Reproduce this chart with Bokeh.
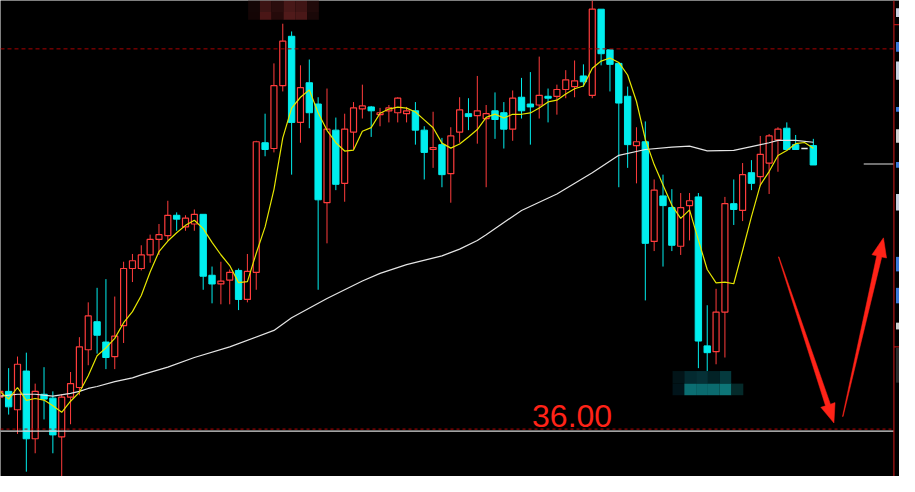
import numpy as np
import pandas as pd
from bokeh.plotting import figure
from bokeh.models import Range1d
from bokeh.core.properties import value
from bokeh.embed import file_html
from bokeh.resources import INLINE

# ---------------- data ----------------
opens = [39.3, 39.9, 38.0, 42.0, 35.0, 39.6, 39.2, 35.2, 39.3, 40.3,
         44.2, 47.1, 45.0, 43.5, 46.7, 52.6, 52.6, 54.0, 55.6, 56.0,
         58.1, 56.9, 57.2, 58.2, 51.9, 51.0, 51.4, 52.4, 49.4, 52.2,
         65.6, 65.0, 71.5, 76.6, 67.7, 71.8, 69.6, 59.4, 66.9, 61.4,
         66.7, 69.1, 69.3, 68.5, 68.9, 68.7, 68.6, 68.9, 66.9, 64.9,
         65.4, 62.4, 66.7, 68.6, 68.4, 68.1, 68.9, 68.7, 67.0, 70.3,
         69.6, 69.5, 70.4, 70.4, 71.1, 71.4, 72.5, 70.5, 79.4, 75.2,
         73.8, 70.4, 65.3, 65.7, 55.4, 60.1, 58.9, 54.9, 59.1, 60.0,
         44.6, 44.0, 48.1, 59.3, 58.6, 62.5, 62.1, 63.5, 65.9, 67.1,
         65.4, 65.0, 65.3]
highs = [40.1, 42.3, 43.5, 43.9, 40.7, 42.4, 39.9, 39.6, 41.9, 45.5,
         49.1, 50.6, 51.5, 49.7, 53.3, 54.1, 55.0, 56.1, 57.2, 59.6,
         58.4, 58.1, 58.7, 58.2, 52.8, 53.3, 52.5, 52.6, 54.1, 65.8,
         68.6, 73.8, 77.9, 77.1, 73.6, 74.2, 70.3, 71.2, 68.2, 68.6,
         69.8, 71.6, 69.4, 69.2, 69.5, 70.3, 69.3, 69.8, 67.3, 68.8,
         66.1, 67.2, 70.3, 70.2, 72.5, 69.5, 70.8, 69.8, 71.0, 72.3,
         72.9, 74.5, 71.2, 71.6, 73.1, 74.1, 73.7, 80.3, 79.4, 75.2,
         73.8, 71.4, 67.2, 67.8, 61.8, 62.3, 60.8, 60.4, 60.4, 60.4,
         48.8, 50.5, 60.0, 61.8, 63.5, 63.8, 66.3, 66.5, 67.2, 67.7,
         66.4, 65.0, 66.0]
lows = [39.1, 37.5, 35.5, 31.6, 33.5, 37.0, 33.5, 31.1, 36.5, 39.5,
        42.6, 43.8, 42.2, 42.2, 44.9, 51.2, 52.4, 53.2, 54.0, 55.5,
        56.5, 56.5, 56.5, 50.4, 49.0, 48.9, 48.9, 48.3, 49.1, 50.4,
        64.2, 64.6, 70.9, 62.3, 65.6, 67.1, 50.4, 55.2, 60.7, 59.5,
        64.9, 68.1, 66.2, 67.3, 67.7, 67.7, 67.7, 65.4, 61.8, 63.0,
        61.0, 59.4, 65.6, 66.9, 65.5, 61.0, 66.0, 65.0, 65.8, 68.1,
        65.4, 68.1, 67.7, 68.5, 70.2, 70.3, 71.4, 70.2, 73.6, 70.9,
        61.0, 63.0, 61.4, 49.3, 54.4, 52.8, 54.4, 54.0, 55.5, 42.3,
        42.0, 42.7, 43.4, 57.1, 57.5, 60.7, 61.1, 60.3, 62.6, 64.9,
        64.9, 65.0, 63.3]
closes = [39.9, 38.3, 42.7, 35.0, 39.9, 39.1, 35.4, 39.3, 40.7, 44.5,
          47.7, 45.7, 43.4, 45.6, 52.6, 53.4, 54.0, 55.6, 56.1, 58.1,
          57.7, 57.8, 58.2, 51.8, 51.0, 51.3, 52.2, 49.4, 52.3, 65.7,
          64.9, 71.5, 76.1, 67.7, 71.3, 68.7, 59.7, 67.0, 61.3, 67.0,
          69.2, 69.4, 68.9, 68.7, 69.2, 70.2, 68.9, 66.9, 64.6, 65.1,
          62.3, 66.3, 69.0, 68.3, 68.9, 68.6, 68.0, 67.0, 70.2, 68.9,
          69.3, 70.5, 70.2, 71.1, 72.1, 72.0, 71.9, 79.4, 74.8, 73.7,
          69.7, 65.4, 65.7, 55.2, 60.7, 59.1, 55.0, 58.9, 59.6, 45.1,
          43.9, 48.1, 59.3, 58.7, 62.3, 61.4, 64.4, 66.3, 67.0, 64.9,
          64.9, 65.0, 63.3]

# long moving average (white), read at sampled bars
ma_long_idx = [0, 2, 4, 6, 8, 9, 10, 11, 13, 15, 16, 19, 22, 26, 31, 33, 37, 41, 43,
               46, 50, 52, 54, 55, 59, 63, 67, 70, 73, 76, 78, 80, 83, 85, 87, 88, 90, 92]
ma_long_val = [39.4, 39.6, 39.6, 39.4, 39.7, 39.9, 40.2, 40.4, 40.9, 41.3, 41.6, 42.4,
               43.4, 44.5, 46.2, 47.5, 49.5, 51.3, 52.1, 53.0, 53.9, 54.6, 55.5, 56.1,
               58.6, 60.3, 62.5, 64.3, 64.9, 65.15, 65.25, 64.75, 64.8, 65.2, 65.6,
               65.85, 65.85, 65.65]

short_ma_period = 5
level_price = 36.0          # red dashed level, labelled "36.00"
level_label = "36.00"
top_level = 75.3            # upper red dashed level
base_level = 35.78          # white solid base line
mark_level = 63.4           # short white marker on the right

# ---------------- layout ----------------
W, H = 899, 476
X0, X1 = 0.078, 101.744
Y0, Y1 = 31.1, 80.3
BORDER_X = 101.11

RED = "#ff3c3c"
CYAN = "#00eeee"
ARROW_RED = "#ff2318"

p = figure(width=W, height=H, x_range=Range1d(X0, X1), y_range=Range1d(Y0, Y1),
           output_backend="svg", toolbar_location=None, min_border=0,
           x_axis_location=None, y_axis_location=None,
           background_fill_color="black", border_fill_color="black",
           outline_line_color=None)
p.grid.visible = False

df = pd.DataFrame(dict(o=opens, h=highs, l=lows, c=closes))
df["i"] = np.arange(len(df))
df["top"] = df[["o", "c"]].max(axis=1)
df["bot"] = df[["o", "c"]].min(axis=1)
up = df[df.c > df.o]
dn = df[df.c < df.o]
dj = df[df.c == df.o]

# wicks
for sub, col in ((up, RED), (dn, CYAN), (dj, "#e8e8e8")):
    p.segment(sub.i, sub.top, sub.i, sub.h, line_color=col, line_width=1)
    p.segment(sub.i, sub.l, sub.i, sub.bot, line_color=col, line_width=1)

# bodies
p.vbar(x=up.i, width=0.68, top=up.top, bottom=up.bot,
       fill_color="black", line_color=RED, line_width=1.2)
p.vbar(x=dn.i, width=0.72, top=dn.top, bottom=dn.bot,
       fill_color=CYAN, line_color=CYAN, line_width=1)
p.segment(dj.i - 0.36, dj.c, dj.i + 0.36, dj.c, line_color="#e8e8e8", line_width=1.5)

# moving averages
ma_short = df.c.rolling(short_ma_period, min_periods=1).mean()
p.line(ma_long_idx, ma_long_val, line_color="#e4e4e4", line_width=1.2)
p.line(df.i, ma_short, line_color="#e6e600", line_width=1.2)

# horizontal levels
p.segment([X0], [top_level], [BORDER_X], [top_level], line_color="#a80000",
          line_width=1, line_dash="4 3")
p.segment([X0], [level_price], [BORDER_X], [level_price], line_color="#b00000",
          line_width=1, line_dash="3 3")
p.segment([X0], [base_level], [BORDER_X], [base_level], line_color="#d8d8d8", line_width=1.2)
p.segment([97.7], [mark_level], [BORDER_X], [mark_level], line_color="#e0e0e0", line_width=1.2)

# right border and clipped price-axis fragments
p.segment([BORDER_X], [Y0], [BORDER_X], [Y1], line_color="#b01414", line_width=1.2)
p.segment([BORDER_X, BORDER_X], [77.8, 44.5], [X1, X1], [77.8, 44.5],
          line_color="#b01414", line_width=1.2)
frag_top = [79.5, 76.0, 74.0, 69.3, 67.0, 63.6, 60.3, 53.8, 50.6, 47.0, 44.4]
frag_bot = [78.6, 75.0, 72.1, 68.8, 65.6, 63.0, 58.6, 52.3, 49.0, 46.3, 40.8]
frag_col = ["#c8d0e0", "#3a78d8", "#c8d0e0", "#3a78d8", "#d0d0d0", "#3a78d8",
            "#c8d0e0", "#3a78d8", "#3a78d8", "#d0d0d0", "#2c2c2c"]
p.quad(left=[101.35] * len(frag_top), right=[X1] * len(frag_top),
       top=frag_top, bottom=frag_bot, fill_color=frag_col, line_color=None)

# pixelated (masked) blocks
top_mosaic_x = [28.08, 29.41, 30.74, 32.08, 33.41, 34.74, 36.08]
top_mosaic_rows = [(80.3, 79.1), (79.1, 78.3)]
top_mosaic_cols = [["#140606", "#3c1414", "#2a0d0d", "#481818", "#401515", "#200a0a"],
                   ["#140505", "#4a1616", "#250a0a", "#501a1a", "#4a1818", "#1a0808"]]
bot_mosaic_x = [76.08, 77.41, 78.74, 80.08, 81.41, 82.74, 84.08]
bot_mosaic_rows = [(42.0, 40.7), (40.7, 39.5)]
bot_mosaic_cols = [["#021418", "#032a30", "#053036", "#022226", "#053a3e", "#000000"],
                   ["#01141a", "#0b6e72", "#0a6a6e", "#0b6a6e", "#0d7577", "#042a2a"]]
for xs, rows, cols in ((top_mosaic_x, top_mosaic_rows, top_mosaic_cols),
                       (bot_mosaic_x, bot_mosaic_rows, bot_mosaic_cols)):
    L, R, T, B, C = [], [], [], [], []
    for (t, b), rowc in zip(rows, cols):
        for k, c in enumerate(rowc):
            L.append(xs[k]); R.append(xs[k + 1]); T.append(t); B.append(b); C.append(c)
    p.quad(left=L, right=R, top=T, bottom=B, fill_color=C, line_color=None)

# level label
p.text(x=[60.19], y=[37.4], text=[level_label], text_font=value("Liberation Sans"),
       text_font_size="32px", text_color=ARROW_RED, text_align="left",
       text_baseline="alphabetic")

# hand-drawn style arrows (tail -> tip, data coords)
arrows = [((88.08, 53.8), (94.33, 36.63)),
          ((95.33, 37.3), (99.93, 55.77))]
sx = W / (X1 - X0)
sy = H / (Y1 - Y0)


def arrow_poly(tail, tip, head_len=19.0, head_half=7.5, w0=0.3, w1=2.6):
    tx, ty = tail[0] * sx, tail[1] * sy
    px, py = tip[0] * sx, tip[1] * sy
    dx, dy = px - tx, py - ty
    ln = (dx * dx + dy * dy) ** 0.5
    ux, uy = dx / ln, dy / ln
    nx, ny = -uy, ux
    bx, by = px - ux * head_len, py - uy * head_len
    pts = [(tx + nx * w0, ty + ny * w0), (bx + nx * w1, by + ny * w1),
           (bx + nx * head_half, by + ny * head_half), (px, py),
           (bx - nx * head_half, by - ny * head_half), (bx - nx * w1, by - ny * w1),
           (tx - nx * w0, ty - ny * w0)]
    return [q[0] / sx for q in pts], [q[1] / sy for q in pts]


axs, ays = [], []
for tail, tip in arrows:
    a, b = arrow_poly(tail, tip)
    axs.append(a); ays.append(b)
p.patches(axs, ays, fill_color=ARROW_RED, line_color=ARROW_RED, line_width=0.5)

open("out.html", "w").write(file_html(p, INLINE))
